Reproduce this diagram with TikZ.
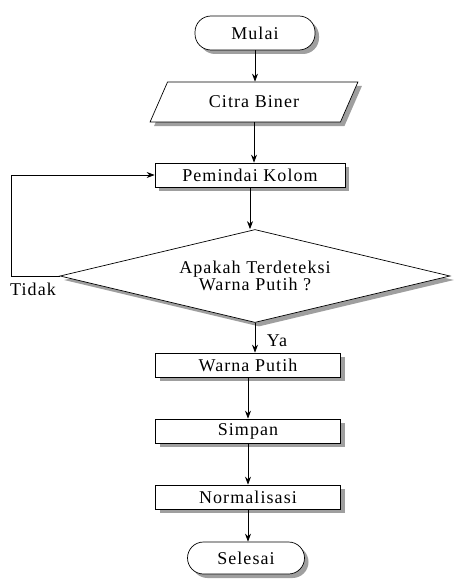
\documentclass[tikz,border=0pt]{standalone}
\usepackage{fontspec}
\setmainfont{Liberation Serif}[LetterSpace=6]
\usetikzlibrary{shapes.geometric,shadows,arrows.meta}
\begin{document}
\begin{tikzpicture}[x=1pt,y=-1pt,
  font=\fontsize{18}{20}\selectfont,
  shad/.style={drop shadow={shadow xshift=4pt,shadow yshift=-4pt,fill=gray!75,opacity=1}},
  term/.style={draw,fill=white,shad,rounded corners=16pt,inner sep=0pt,line width=0.7pt},
  proc/.style={draw,fill=white,shad,inner sep=0pt,line width=0.7pt},
  io/.style={draw,fill=white,shad,trapezium,trapezium left angle=53,trapezium right angle=127,
     trapezium stretches=true,inner sep=0pt,line width=0.7pt},
  dec/.style={draw,fill=white,shad,diamond,aspect=4.15,inner sep=0pt,line width=0.7pt,align=center},
  arr/.style={-{Stealth[length=8pt,width=6pt]},line width=0.8pt}]
\useasboundingbox (0,0) rectangle (454,583);
\node[term,minimum width=120pt,minimum height=34pt] (mulai) at (255,33) {Mulai};
\node[io,minimum width=208pt,minimum height=40pt] (citra) at (254,102) {Citra Biner};
\node[proc,minimum width=190pt,minimum height=24pt] (pem) at (250,175) {Pemindai Kolom};
\node[dec,minimum width=390pt,minimum height=93pt] (dec) at (255,276) {Apakah Terdeteksi\\[-3pt]Warna Putih ?};
\node[proc,minimum width=185pt,minimum height=24pt] (warna) at (248,365) {Warna Putih};
\node[proc,minimum width=185pt,minimum height=24pt] (simpan) at (248,431) {Simpan};
\node[proc,minimum width=185pt,minimum height=24pt] (norm) at (248,497) {Normalisasi};
\node[term,minimum width=117pt,minimum height=32pt] (sel) at (246,558) {Selesai};
\draw[arr] (mulai.south) -- (mulai.south |- citra.north);
\draw[arr] (citra.south) -- (citra.south |- pem.north);
\draw[arr] (pem.south) -- (pem.south |- dec.north);
\draw[arr] (dec.west) -- ++(-48,0) |- (pem.west);
\node (tidak) at (33,289) {Tidak};
\draw[arr] (dec.south) -- (dec.south |- warna.north);
\node (ya) at (277,341) {Ya};
\draw[arr] (warna.south) -- (warna.south |- simpan.north);
\draw[arr] (simpan.south) -- (simpan.south |- norm.north);
\draw[arr] (norm.south) -- (norm.south |- sel.north);
\end{tikzpicture}
\end{document}
